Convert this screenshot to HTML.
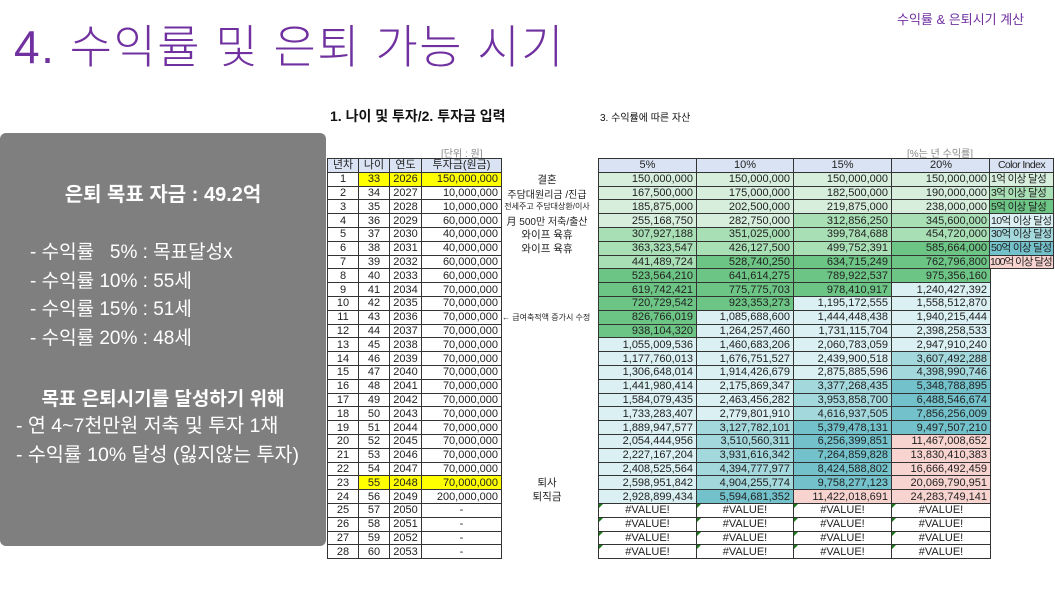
<!DOCTYPE html>
<html><head><meta charset="utf-8"><style>
body{margin:0;width:1055px;height:593px;background:#fff;position:relative;overflow:hidden;font-family:"Liberation Sans","Noto Sans CJK KR",sans-serif}
.a{position:absolute;white-space:nowrap}
#title{left:14px;top:11px;font-size:46px;color:#7030a0;letter-spacing:1.5px;font-weight:300}
#box{left:0;top:133px;width:326px;height:413px;background:#7f7f7f;border-radius:6px}
.w{color:#fff}
table{position:absolute;border-collapse:collapse;table-layout:fixed;font-family:"Liberation Sans Narrow","Liberation Sans","Noto Sans CJK KR",sans-serif;font-size:11px;color:#222}
td{border:1px solid #333;height:12.8px;padding:0 3px;line-height:12px;overflow:hidden;white-space:nowrap}
#lt td{text-align:center}
#lt td.r{text-align:right}
#rt td{text-align:right}
#rt td.c{text-align:center;position:relative}
td.c:before{content:"";position:absolute;left:0;top:0;border-top:4px solid #1a7a1a;border-right:4px solid transparent}
.h td{background:#dae3f3;text-align:center!important}
.y{background:#ffff00}
.a1{background:#d6eedb}.a2{background:#a9dfb5}.a3{background:#6cc584}
.d1{background:#daf0f2}.d2{background:#a3d8dd}.d3{background:#72c1cb}.p{background:#f8d4d0}
#ci td{text-align:left;font-size:10.5px;letter-spacing:-0.6px;padding:0 1px}
.n{font-size:10.5px;text-align:center;width:100px;color:#222}
</style></head><body>
<div class="a" id="title">4. 수익률 및 은퇴 가능 시기</div>
<div class="a" style="left:897px;top:9px;font-size:13px;color:#7030a0">수익률 &amp; 은퇴시기 계산</div>
<div class="a" id="box"></div>
<div class="a w" style="left:0;width:326px;text-align:center;top:178px;font-size:20px;font-weight:bold">은퇴 목표 자금 : 49.2억</div>
<div class="a w" style="left:30px;top:239px;font-size:19px;line-height:28.7px">- 수익률 &nbsp;&nbsp;5% : 목표달성x<br>- 수익률 10% : 55세<br>- 수익률 15% : 51세<br>- 수익률 20% : 48세</div>
<div class="a w" style="left:0;width:326px;text-align:center;top:384px;font-size:19px;font-weight:bold">목표 은퇴시기를 달성하기 위해</div>
<div class="a w" style="left:16px;top:412px;font-size:19.5px;line-height:29px">- 연 4~7천만원 저축 및 투자 1채<br>- 수익률 10% 달성 (잃지않는 투자)</div>
<div class="a" style="left:330px;top:106px;font-size:14px;font-weight:bold;color:#111">1. 나이 및 투자/2. 투자금 입력</div>
<div class="a" style="left:600px;top:109px;font-size:10px;color:#111">3. 수익률에 따른 자산</div>
<div class="a" style="left:441px;top:145px;font-size:10px;color:#888">[단위 : 원]</div>
<div class="a" style="left:907px;top:145px;font-size:10px;color:#888">[%는 년 수익률]</div>

<table id="lt" style="left:327px;top:158px;width:174px">
<colgroup><col style="width:31px"><col style="width:31px"><col style="width:32px"><col style="width:80px"></colgroup>
<tr class="h"><td>년차</td><td>나이</td><td>연도</td><td>투자금(원금)</td></tr>
<tr><td>1</td><td class="y">33</td><td class="y">2026</td><td class="r y">150,000,000</td></tr>
<tr><td>2</td><td>34</td><td>2027</td><td class="r">10,000,000</td></tr>
<tr><td>3</td><td>35</td><td>2028</td><td class="r">10,000,000</td></tr>
<tr><td>4</td><td>36</td><td>2029</td><td class="r">60,000,000</td></tr>
<tr><td>5</td><td>37</td><td>2030</td><td class="r">40,000,000</td></tr>
<tr><td>6</td><td>38</td><td>2031</td><td class="r">40,000,000</td></tr>
<tr><td>7</td><td>39</td><td>2032</td><td class="r">60,000,000</td></tr>
<tr><td>8</td><td>40</td><td>2033</td><td class="r">60,000,000</td></tr>
<tr><td>9</td><td>41</td><td>2034</td><td class="r">70,000,000</td></tr>
<tr><td>10</td><td>42</td><td>2035</td><td class="r">70,000,000</td></tr>
<tr><td>11</td><td>43</td><td>2036</td><td class="r">70,000,000</td></tr>
<tr><td>12</td><td>44</td><td>2037</td><td class="r">70,000,000</td></tr>
<tr><td>13</td><td>45</td><td>2038</td><td class="r">70,000,000</td></tr>
<tr><td>14</td><td>46</td><td>2039</td><td class="r">70,000,000</td></tr>
<tr><td>15</td><td>47</td><td>2040</td><td class="r">70,000,000</td></tr>
<tr><td>16</td><td>48</td><td>2041</td><td class="r">70,000,000</td></tr>
<tr><td>17</td><td>49</td><td>2042</td><td class="r">70,000,000</td></tr>
<tr><td>18</td><td>50</td><td>2043</td><td class="r">70,000,000</td></tr>
<tr><td>19</td><td>51</td><td>2044</td><td class="r">70,000,000</td></tr>
<tr><td>20</td><td>52</td><td>2045</td><td class="r">70,000,000</td></tr>
<tr><td>21</td><td>53</td><td>2046</td><td class="r">70,000,000</td></tr>
<tr><td>22</td><td>54</td><td>2047</td><td class="r">70,000,000</td></tr>
<tr><td>23</td><td class="y">55</td><td class="y">2048</td><td class="r y">70,000,000</td></tr>
<tr><td>24</td><td>56</td><td>2049</td><td class="r">200,000,000</td></tr>
<tr><td>25</td><td>57</td><td>2050</td><td>-</td></tr>
<tr><td>26</td><td>58</td><td>2051</td><td>-</td></tr>
<tr><td>27</td><td>59</td><td>2052</td><td>-</td></tr>
<tr><td>28</td><td>60</td><td>2053</td><td>-</td></tr>
</table>

<div class="a n" style="left:497px;top:172px">결혼</div>
<div class="a n" style="left:497px;top:186px;font-size:10px">주담대원리금 /진급</div>
<div class="a n" style="left:497px;top:201px;font-size:8px">전세주고 주담대상환/이사</div>
<div class="a n" style="left:497px;top:213px;font-size:10px">月 500만 저축/출산</div>
<div class="a n" style="left:497px;top:227px">와이프 육휴</div>
<div class="a n" style="left:497px;top:241px">와이프 육휴</div>
<div class="a" style="left:502px;top:312px;font-size:8px;color:#222">← 급여축적액 증가시 수정</div>
<div class="a n" style="left:497px;top:475px">퇴사</div>
<div class="a n" style="left:497px;top:489px">퇴직금</div>

<table id="rt" style="left:598px;top:158px;width:392px">
<colgroup><col style="width:98px"><col style="width:97px"><col style="width:98px"><col style="width:99px"></colgroup>
<tr class="h"><td>5%</td><td>10%</td><td>15%</td><td>20%</td></tr>
<tr><td class="a1">150,000,000</td><td class="a1">150,000,000</td><td class="a1">150,000,000</td><td class="a1">150,000,000</td></tr>
<tr><td class="a1">167,500,000</td><td class="a1">175,000,000</td><td class="a1">182,500,000</td><td class="a1">190,000,000</td></tr>
<tr><td class="a1">185,875,000</td><td class="a1">202,500,000</td><td class="a1">219,875,000</td><td class="a1">238,000,000</td></tr>
<tr><td class="a1">255,168,750</td><td class="a1">282,750,000</td><td class="a2">312,856,250</td><td class="a2">345,600,000</td></tr>
<tr><td class="a2">307,927,188</td><td class="a2">351,025,000</td><td class="a2">399,784,688</td><td class="a2">454,720,000</td></tr>
<tr><td class="a2">363,323,547</td><td class="a2">426,127,500</td><td class="a2">499,752,391</td><td class="a3">585,664,000</td></tr>
<tr><td class="a2">441,489,724</td><td class="a3">528,740,250</td><td class="a3">634,715,249</td><td class="a3">762,796,800</td></tr>
<tr><td class="a3">523,564,210</td><td class="a3">641,614,275</td><td class="a3">789,922,537</td><td class="a3">975,356,160</td></tr>
<tr><td class="a3">619,742,421</td><td class="a3">775,775,703</td><td class="a3">978,410,917</td><td class="d1">1,240,427,392</td></tr>
<tr><td class="a3">720,729,542</td><td class="a3">923,353,273</td><td class="d1">1,195,172,555</td><td class="d1">1,558,512,870</td></tr>
<tr><td class="a3">826,766,019</td><td class="d1">1,085,688,600</td><td class="d1">1,444,448,438</td><td class="d1">1,940,215,444</td></tr>
<tr><td class="a3">938,104,320</td><td class="d1">1,264,257,460</td><td class="d1">1,731,115,704</td><td class="d1">2,398,258,533</td></tr>
<tr><td class="d1">1,055,009,536</td><td class="d1">1,460,683,206</td><td class="d1">2,060,783,059</td><td class="d1">2,947,910,240</td></tr>
<tr><td class="d1">1,177,760,013</td><td class="d1">1,676,751,527</td><td class="d1">2,439,900,518</td><td class="d2">3,607,492,288</td></tr>
<tr><td class="d1">1,306,648,014</td><td class="d1">1,914,426,679</td><td class="d1">2,875,885,596</td><td class="d2">4,398,990,746</td></tr>
<tr><td class="d1">1,441,980,414</td><td class="d1">2,175,869,347</td><td class="d2">3,377,268,435</td><td class="d3">5,348,788,895</td></tr>
<tr><td class="d1">1,584,079,435</td><td class="d1">2,463,456,282</td><td class="d2">3,953,858,700</td><td class="d3">6,488,546,674</td></tr>
<tr><td class="d1">1,733,283,407</td><td class="d1">2,779,801,910</td><td class="d2">4,616,937,505</td><td class="d3">7,856,256,009</td></tr>
<tr><td class="d1">1,889,947,577</td><td class="d2">3,127,782,101</td><td class="d3">5,379,478,131</td><td class="d3">9,497,507,210</td></tr>
<tr><td class="d1">2,054,444,956</td><td class="d2">3,510,560,311</td><td class="d3">6,256,399,851</td><td class="p">11,467,008,652</td></tr>
<tr><td class="d1">2,227,167,204</td><td class="d2">3,931,616,342</td><td class="d3">7,264,859,828</td><td class="p">13,830,410,383</td></tr>
<tr><td class="d1">2,408,525,564</td><td class="d2">4,394,777,977</td><td class="d3">8,424,588,802</td><td class="p">16,666,492,459</td></tr>
<tr><td class="d1">2,598,951,842</td><td class="d2">4,904,255,774</td><td class="d3">9,758,277,123</td><td class="p">20,069,790,951</td></tr>
<tr><td class="d1">2,928,899,434</td><td class="d3">5,594,681,352</td><td class="p">11,422,018,691</td><td class="p">24,283,749,141</td></tr>
<tr><td class="c">#VALUE!</td><td class="c">#VALUE!</td><td class="c">#VALUE!</td><td class="c">#VALUE!</td></tr>
<tr><td class="c">#VALUE!</td><td class="c">#VALUE!</td><td class="c">#VALUE!</td><td class="c">#VALUE!</td></tr>
<tr><td class="c">#VALUE!</td><td class="c">#VALUE!</td><td class="c">#VALUE!</td><td class="c">#VALUE!</td></tr>
<tr><td class="c">#VALUE!</td><td class="c">#VALUE!</td><td class="c">#VALUE!</td><td class="c">#VALUE!</td></tr>
</table>

<table id="ci" style="left:989px;top:158px;width:64px">
<colgroup><col style="width:64px"></colgroup>
<tr class="h"><td>Color Index</td></tr>
<tr><td class="a1">1억 이상 달성</td></tr>
<tr><td class="a2">3억 이상 달성</td></tr>
<tr><td class="a3">5억 이상 달성</td></tr>
<tr><td class="d1">10억 이상 달성</td></tr>
<tr><td class="d2">30억 이상 달성</td></tr>
<tr><td class="d3">50억 이상 달성</td></tr>
<tr><td class="p" style="letter-spacing:-1px;padding:0">100억 이상 달성</td></tr>
</table>
</body></html>
